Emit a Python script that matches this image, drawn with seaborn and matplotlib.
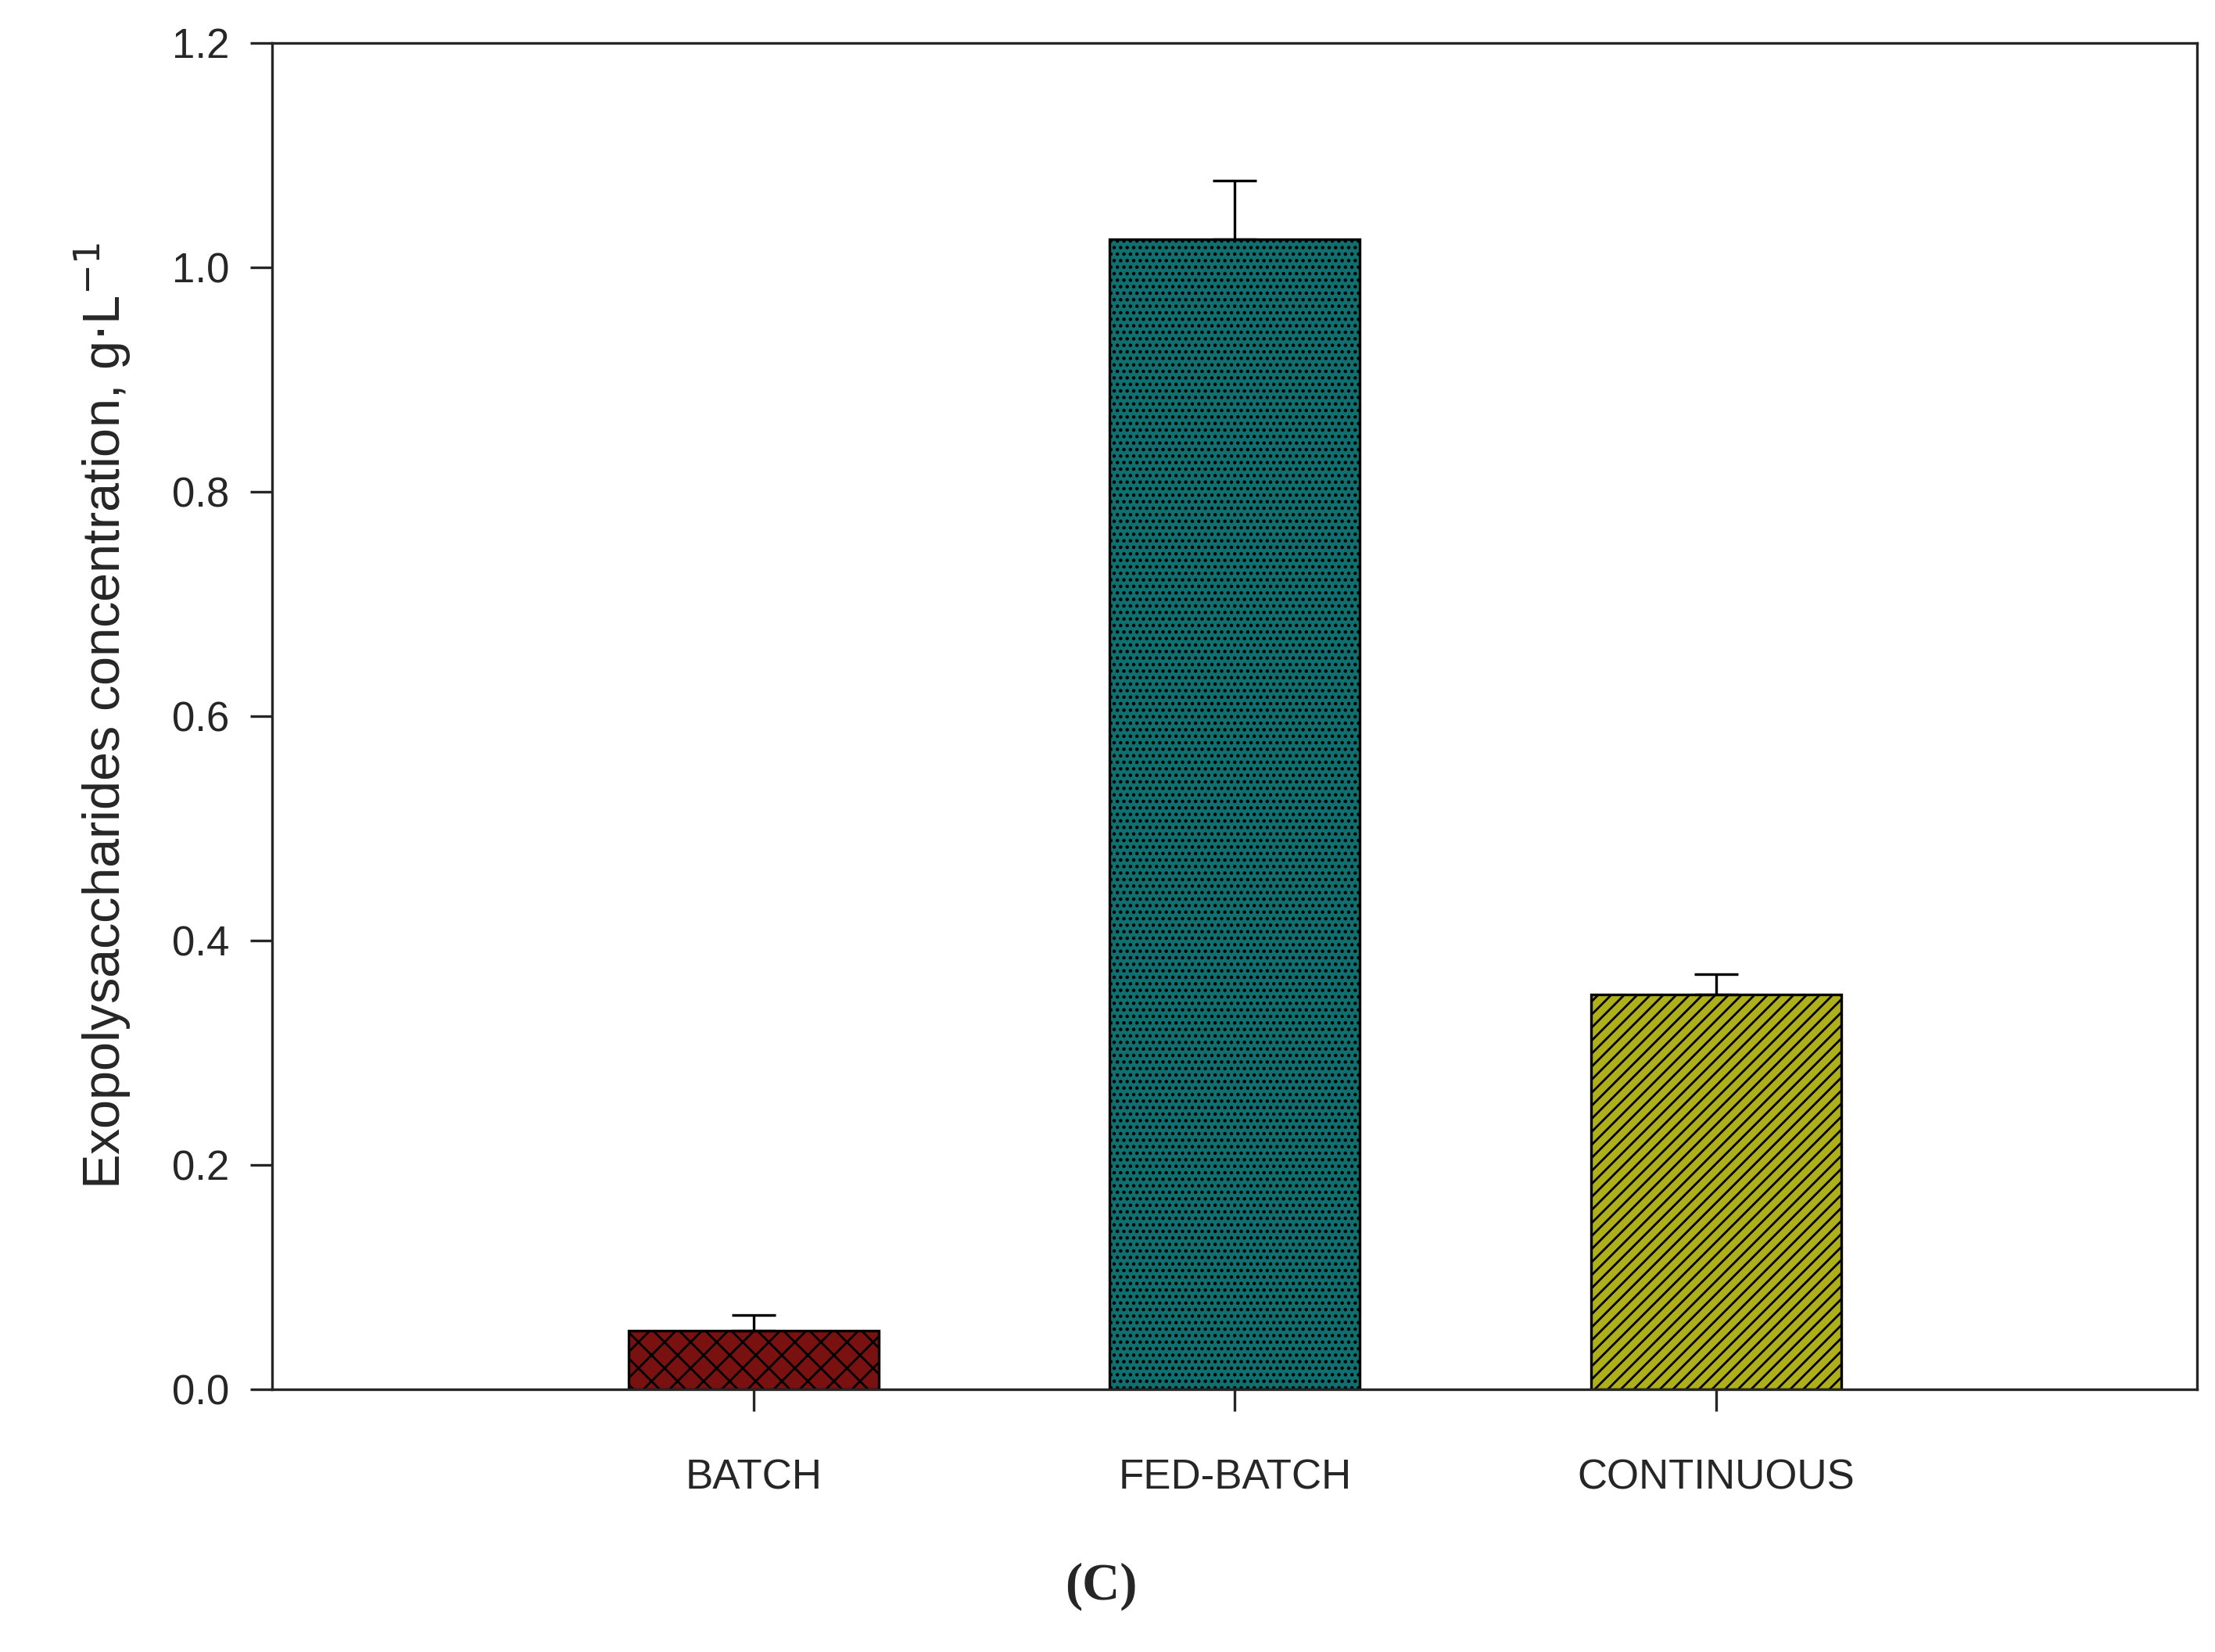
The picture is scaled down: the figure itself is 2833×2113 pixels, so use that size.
import seaborn as sns
import matplotlib.pyplot as plt
import numpy as np

categories = ["BATCH", "FED-BATCH", "CONTINUOUS"]
values = [0.052, 1.025, 0.352]
errors = [0.014, 0.052, 0.018]
colors = ["#8B0000", "#008080", "#C8C800"]
hatches = ["xx", "....", "////"]

sns.set_style("ticks")
plt.rcParams["font.family"] = ["Arial", "Liberation Sans", "DejaVu Sans"]
plt.rcParams["hatch.linewidth"] = 1.0

fig = plt.figure(figsize=(14.165, 10.565), dpi=200)
ax = fig.add_axes([0.123, 0.159, 0.869, 0.815])

sns.barplot(x=categories, y=values, hue=categories, palette=colors,
            width=0.52, edgecolor="black", linewidth=1.2, legend=False, ax=ax)
for patch, h in zip(ax.patches, hatches):
    patch.set_hatch(h)

ax.errorbar(np.arange(len(categories)), values,
            yerr=[np.zeros(len(errors)), errors],
            fmt="none", ecolor="black", elinewidth=1.2, capsize=10, capthick=1.2)

ax.set_xlim(-1, 3)
ax.set_ylim(0, 1.2)
ax.set_yticks(np.arange(0, 1.21, 0.2))
ax.set_yticklabels([f"{v:.1f}" for v in np.arange(0, 1.21, 0.2)])
for s in ax.spines.values():
    s.set_linewidth(1.2)
ax.tick_params(axis="both", direction="out", length=10, width=1.2, labelsize=19, pad=10)
ax.tick_params(axis="x", pad=22)
ax.set_ylabel(r"Exopolysaccharides concentration, g$\cdot$L$^{-1}$", fontsize=24, labelpad=18)

fig.text(0.497, 0.025, "(C)", ha="center", va="bottom", fontsize=24,
         fontweight="bold", family=["Liberation Serif", "DejaVu Serif"])

fig.savefig("out.png", dpi=200, facecolor="white")
